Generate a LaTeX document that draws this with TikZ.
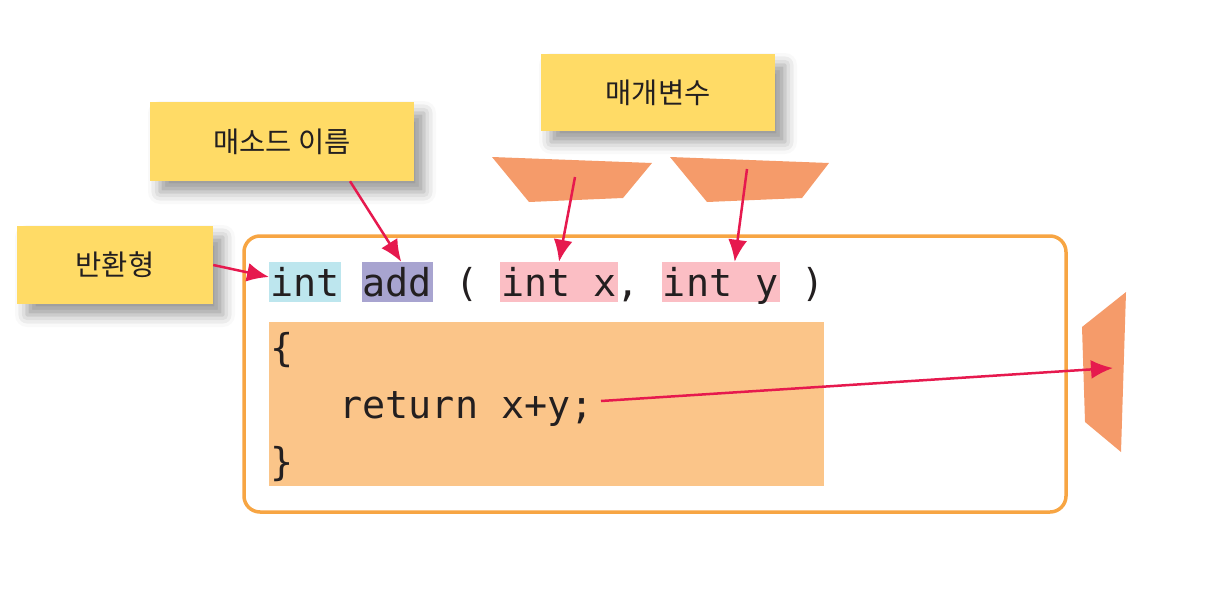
\documentclass[tikz,border=0pt]{standalone}
\usepackage{fontspec}
\usepackage{tikz}
\usetikzlibrary{arrows.meta,shadows.blur}
\setmonofont{DejaVu Sans Mono}
\newfontfamily\krfont{Noto Sans CJK KR}

\definecolor{noteyellow}{HTML}{FFDB66}
\definecolor{trapsalmon}{HTML}{F59B6A}
\definecolor{frameorange}{HTML}{F7A543}
\definecolor{bodyorange}{HTML}{FBC589}
\definecolor{hlcyan}{HTML}{BDE6EE}
\definecolor{hlpurple}{HTML}{A8A4D0}
\definecolor{hlpink}{HTML}{FBBEC4}
\definecolor{arrowred}{HTML}{E6194E}
\definecolor{inkgray}{HTML}{231F20}

\tikzset{
  note/.style={fill=noteyellow, inner sep=0pt, text=inkgray,
    font=\krfont\fontsize{28.5}{32}\selectfont,
    blur shadow={shadow xshift=10pt, shadow yshift=-11pt, shadow blur radius=12pt, shadow opacity=40}},
  code/.style={anchor=base west, inner xsep=1pt, inner ysep=0pt, text=inkgray,
    text height=34pt, text depth=6pt,
    font=\ttfamily\fontsize{38.4}{46}\selectfont},
  trap/.style={fill=trapsalmon},
  arr/.style={-{Latex[length=22pt,width=19pt]}, line width=2.5pt, draw=arrowred}
}

\begin{document}
\begin{tikzpicture}[x=1pt,y=-1pt]
        \useasboundingbox (0,0) rectangle (1209,608);
        \node[note, minimum width=196pt, minimum height=78pt] (rettype) at (115,265) {반환형};
        \node[note, minimum width=264pt, minimum height=79pt] (mname) at (282,141.5) {매소드 이름};
        \node[note, minimum width=234pt, minimum height=77pt] (params) at (658,92.5) {매개변수};
        \fill[trap] (492,157) -- (652,163) -- (623,198) -- (529,202) -- cycle;
        \fill[trap] (670,157) -- (829,163) -- (802,198) -- (707,202) -- cycle;
        \fill[trap] (1126,292) -- (1082,327) -- (1085,422) -- (1121,452) -- cycle;
        \coordinate (xtrap) at (575,177);
        \coordinate (ytrap) at (747,169);
        \coordinate (rtrap) at (1113,368);
        \draw[frameorange, line width=3.5pt, rounded corners=16pt] (244,236) rectangle (1066,512);
        \fill[bodyorange] (269,322) rectangle (824,486);
        \node[code, fill=hlcyan] (ret) at (269,296) {int};
        \node[code, fill=hlpurple] (name) at (361.4,296) {add};
        \node[code] (lparen) at (453.8,296) {(};
        \node[code, fill=hlpink] (px) at (500,296) {int x};
        \node[code] (comma) at (615.5,296) {,};
        \node[code, fill=hlpink] (py) at (661.7,296) {int y};
        \node[code] (rparen) at (800.3,296) {)};
        \node[code] (lbrace) at (269,361) {\{};
        \node[code] (retstmt) at (338.3,418) {return x+y;};
        \node[code] (rbrace) at (269,475) {\}};
        \draw[arr] (rettype.east) -- ([yshift=5pt]ret.west);
        \draw[arr] ([xshift=68pt]mname.south) -- ([xshift=4pt]name.north);
        \draw[arr] (xtrap) -- (px.north);
        \draw[arr] (ytrap) -- ([xshift=14pt]py.north);
        \draw[arr] ([xshift=6pt,yshift=3pt]retstmt.east) -- (rtrap);
    \end{tikzpicture}
\end{document}
